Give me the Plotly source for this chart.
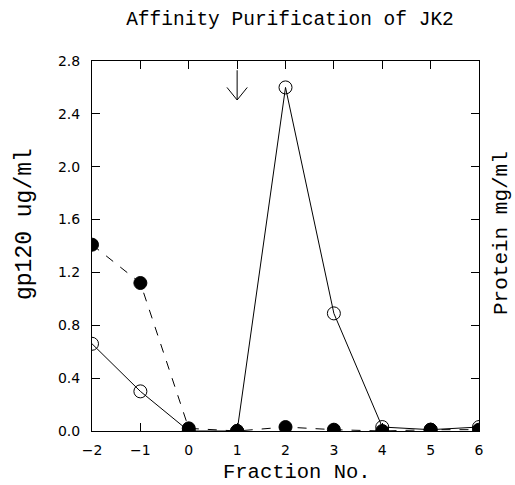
import plotly.graph_objects as go

fractions = [-2, -1, 0, 1, 2, 3, 4, 5, 6]
gp120_open = [0.66, 0.30, 0.00, 0.00, 2.60, 0.89, 0.03, 0.01, 0.03]
protein_filled = [1.41, 1.12, 0.02, 0.00, 0.03, 0.01, 0.00, 0.01, 0.01]
x_ticks = [-2, -1, 0, 1, 2, 3, 4, 5, 6]
x_tick_labels = ["\u22122", "\u22121", "0", "1", "2", "3", "4", "5", "6"]
y_ticks = [0.0, 0.4, 0.8, 1.2, 1.6, 2.0, 2.4, 2.8]
y_tick_labels = ["0.0", "0.4", "0.8", "1.2", "1.6", "2.0", "2.4", "2.8"]
arrow_x = [1, 1, None, 0.79, 1, 1.21]
arrow_y = [2.73, 2.505, None, 2.60, 2.505, 2.60]

fig = go.Figure()
fig.add_trace(go.Scatter(
    x=fractions, y=protein_filled, mode="lines+markers",
    line=dict(color="black", width=1, dash="dash"),
    marker=dict(symbol="circle", size=13, color="black", line=dict(color="black", width=1)),
    showlegend=False))
fig.add_trace(go.Scatter(
    x=fractions, y=gp120_open, mode="lines+markers",
    line=dict(color="black", width=1),
    marker=dict(symbol="circle-open", size=13, color="black", line=dict(color="black", width=1)),
    showlegend=False))
fig.add_trace(go.Scatter(
    x=arrow_x, y=arrow_y, mode="lines",
    line=dict(color="black", width=1), showlegend=False, hoverinfo="skip"))

tickfont = dict(family="DejaVu Sans, sans-serif", size=14, color="black")
mono = "Liberation Mono, Courier New, monospace"

L, R, T, B = 92, 479, 61, 431
fig.update_layout(
    width=515, height=485,
    margin=dict(l=L, r=515 - R, t=T, b=485 - B),
    paper_bgcolor="white", plot_bgcolor="white",
    title=dict(text="Affinity Purification of JK2", x=(125 + 455) / 2 / 515, xanchor="center",
               y=1 - 18 / 485, yanchor="middle",
               font=dict(family=mono, size=19.5, color="black")),
    xaxis=dict(range=[-2, 6], tickvals=x_ticks, ticktext=x_tick_labels, ticks="inside", ticklen=8,
               tickcolor="black", showline=True, linecolor="black", linewidth=1, mirror="ticks",
               showgrid=False, zeroline=False, tickfont=tickfont, ticklabelstandoff=6),
    yaxis=dict(range=[0, 2.8], tickvals=y_ticks, ticktext=y_tick_labels, ticks="inside", ticklen=8,
               tickcolor="black", showline=True, linecolor="black", linewidth=1, mirror="ticks",
               showgrid=False, zeroline=False, tickfont=tickfont, ticklabelstandoff=8),
)
fig.add_annotation(text="Fraction No.", xref="paper", yref="paper",
                   x=(297 - L) / (R - L), y=-(472 - B) / (B - T),
                   xanchor="center", yanchor="middle", showarrow=False,
                   font=dict(family=mono, size=20.5, color="black"))
fig.add_annotation(text="gp120 ug/ml", xref="paper", yref="paper",
                   x=-(L - 25) / (R - L), y=(B - 224) / (B - T),
                   xanchor="center", yanchor="middle", textangle=-90, showarrow=False,
                   font=dict(family=mono, size=23, color="black"))
fig.add_annotation(text="Protein mg/ml", xref="paper", yref="paper",
                   x=1 + (501 - R) / (R - L), y=(B - 233) / (B - T),
                   xanchor="center", yanchor="middle", textangle=-90, showarrow=False,
                   font=dict(family=mono, size=21, color="black"))

fig.write_html("out.html")
